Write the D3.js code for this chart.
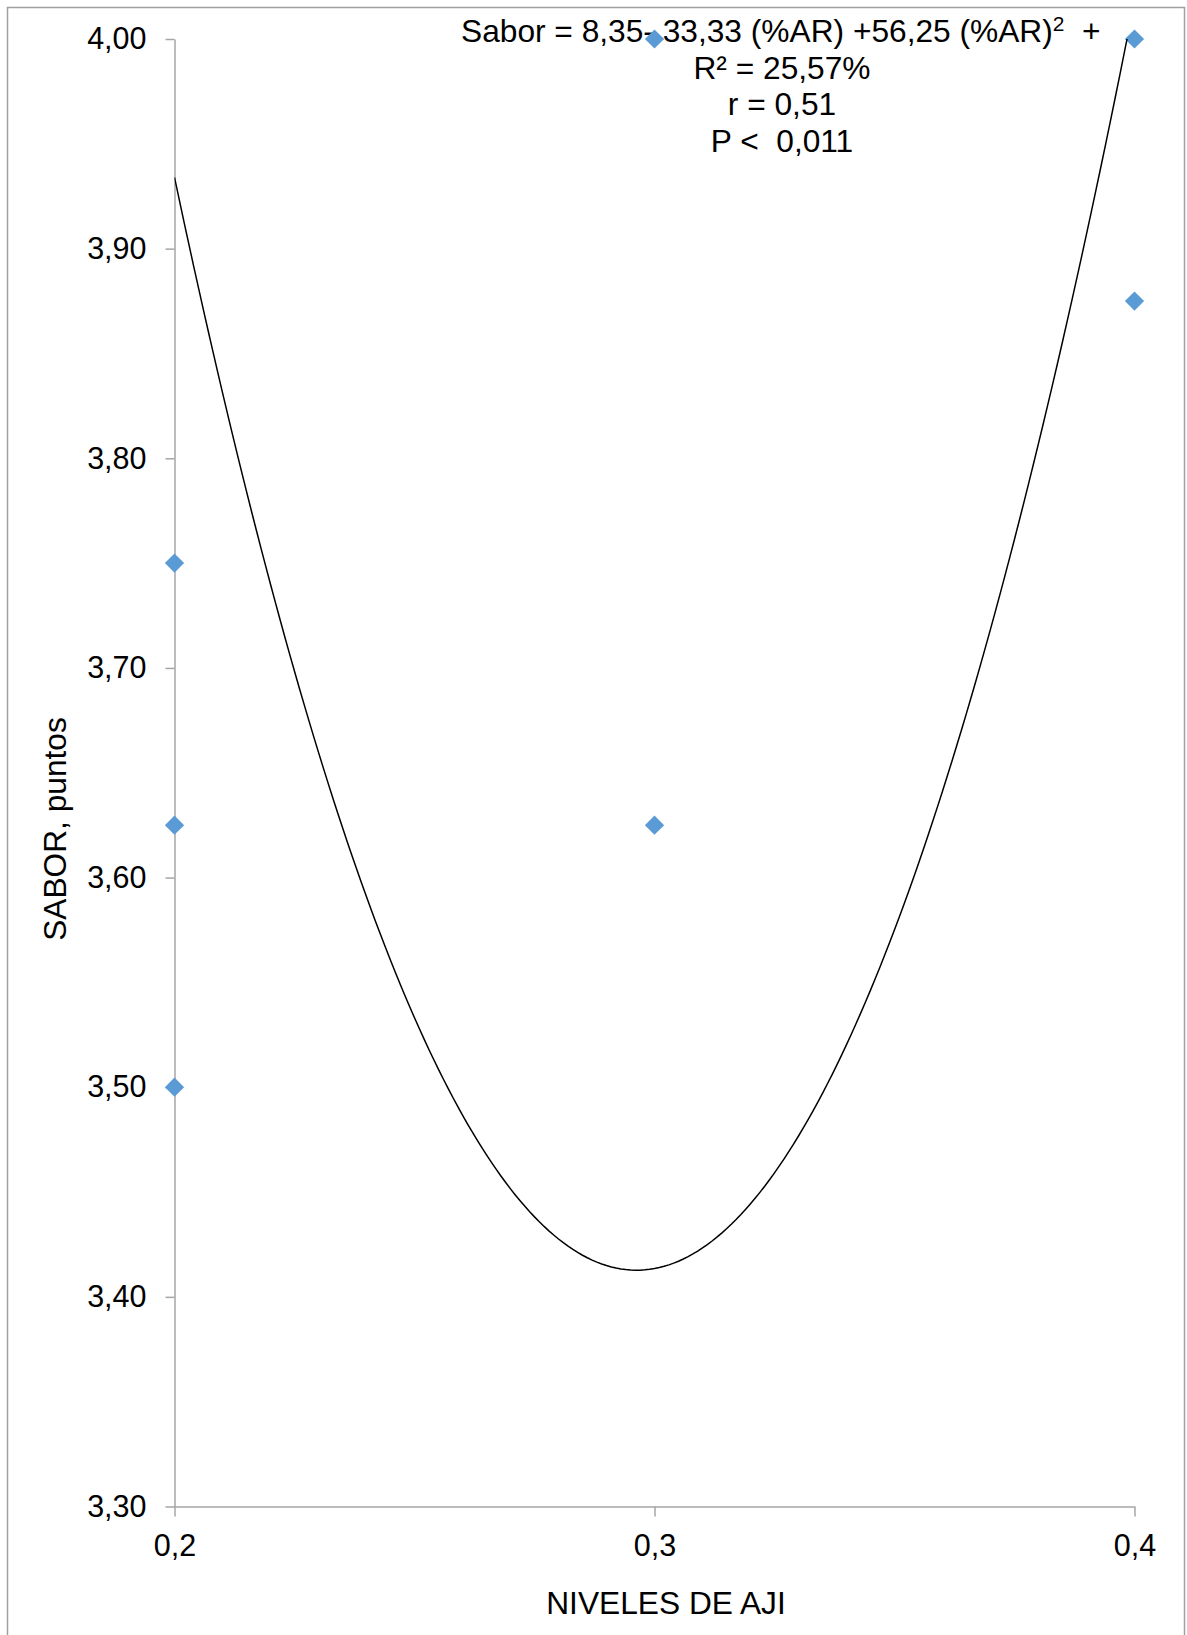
<!DOCTYPE html>
<html>
<head>
<meta charset="utf-8">
<script src="https://cdn.jsdelivr.net/npm/d3@7"></script>
<style>
  html, body { margin: 0; padding: 0; background: #ffffff; }
  svg { display: block; }
  text { font-family: "Liberation Sans", Arial, sans-serif; fill: #000; }
</style>
</head>
<body>
<svg id="chart" width="1187" height="1635"></svg>
<script>
// Observations: level of ají (x) and flavour score (y)
const nivelesAji = [0.2, 0.2, 0.2, 0.3, 0.3, 0.4, 0.4];
const sabor      = [3.75, 3.625, 3.5, 4.0, 3.625, 4.0, 3.875];

// Quadratic trend: Sabor = b0 + b1·x + b2·x²
const coeficientes = [8.35, -33.33, 56.25];

// Axis ticks
const xTicks = [0.2, 0.3, 0.4];
const yTicks = [3.3, 3.4, 3.5, 3.6, 3.7, 3.8, 3.9, 4.0];

// Annotation lines
const ecuacionTexto = ["Sabor = 8,35- 33,33 (%AR) +56,25 (%AR)", "2", "  +"];
const statsTexto = ["R² = 25,57%", "r = 0,51", "P <  0,011"];

const xTitle = "NIVELES DE AJI";
const yTitle = "SABOR, puntos";

const es = d3.formatLocale({decimal: ",", thousands: ".", grouping: [3], currency: ["", ""]});

const svg = d3.select("#chart");
const axisColor = "#a6a6a6";
const tickFont = 30.5;
const textFont = 31.7;

// Outer chart frame
svg.append("rect")
  .attr("x", 7.5).attr("y", 7.5)
  .attr("width", 1177).attr("height", 1650)
  .attr("fill", "none").attr("stroke", "#a0a0a0").attr("stroke-width", 1.5);

const x = d3.scaleLinear().domain([0.2, 0.4]).range([174.5, 1134.5]);
const y = d3.scaleLinear().domain([3.3, 4.0]).range([1506.5, 39]);

// Y axis
const yAxis = svg.append("g")
  .attr("transform", `translate(${x(0.2)},0)`)
  .call(d3.axisLeft(y).tickValues(yTicks).tickSize(9).tickSizeOuter(0).tickPadding(19)
    .tickFormat(es.format(".2f")));
yAxis.select(".domain").attr("stroke", axisColor).attr("stroke-width", 1.5);
yAxis.selectAll(".tick line").attr("stroke", axisColor).attr("stroke-width", 1.5);
yAxis.selectAll(".tick text").attr("font-size", tickFont).attr("font-family", null).attr("fill", "#000");

// X axis
const xAxis = svg.append("g")
  .attr("transform", `translate(0,${y(3.3)})`)
  .call(d3.axisBottom(x).tickValues(xTicks).tickSize(10).tickSizeOuter(0).tickPadding(18)
    .tickFormat(es.format(".1f")));
xAxis.select(".domain").attr("stroke", axisColor).attr("stroke-width", 1.5);
xAxis.selectAll(".tick line").attr("stroke", axisColor).attr("stroke-width", 1.5);
xAxis.selectAll(".tick text").attr("font-size", tickFont).attr("font-family", null).attr("fill", "#000");

// Axis titles
svg.append("text")
  .attr("x", 666).attr("y", 1614)
  .attr("text-anchor", "middle").attr("font-size", textFont)
  .text(xTitle);

svg.append("text")
  .attr("transform", `translate(66,829) rotate(-90)`)
  .attr("text-anchor", "middle").attr("font-size", textFont)
  .text(yTitle);

// Regression annotation
const ann = svg.append("g");
const l1 = ann.append("text")
  .attr("x", 461).attr("y", 42)
  .attr("font-size", textFont)
  .style("white-space", "pre");
l1.append("tspan").text(ecuacionTexto[0]);
l1.append("tspan").attr("font-size", 21).attr("dy", -11).text(ecuacionTexto[1]);
l1.append("tspan").attr("dy", 11).text(ecuacionTexto[2]);

statsTexto.forEach((t, i) => {
  ann.append("text")
    .attr("x", 782).attr("y", 78.5 + i * 36.7)
    .attr("text-anchor", "middle").attr("font-size", textFont)
    .style("white-space", "pre")
    .text(t);
});

// Data points: squares rotated into diamonds
const pts = nivelesAji.map((v, i) => ({x: v, y: sabor[i]}));
const diamond = d3.symbol().type(d3.symbolSquare).size(185);
svg.append("g").selectAll("path")
  .data(pts).join("path")
  .attr("d", diamond)
  .attr("transform", d => `translate(${x(d.x)},${y(d.y)}) rotate(45)`)
  .attr("fill", "#5b9bd5");

// Trend curve, clipped to the plot area
svg.append("clipPath").attr("id", "plotClip")
  .append("rect")
  .attr("x", x(0.2)).attr("y", y(4.0))
  .attr("width", x(0.4) - x(0.2)).attr("height", y(3.3) - y(4.0));

const trend = v => coeficientes[0] + coeficientes[1] * v + coeficientes[2] * v * v;
const curveX = d3.range(0, 201).map(i => 0.2 + i * 0.001);
svg.append("path")
  .datum(curveX)
  .attr("clip-path", "url(#plotClip)")
  .attr("fill", "none").attr("stroke", "#000").attr("stroke-width", 1.5)
  .attr("d", d3.line().x(d => x(d)).y(d => y(trend(d))));
</script>
</body>
</html>
